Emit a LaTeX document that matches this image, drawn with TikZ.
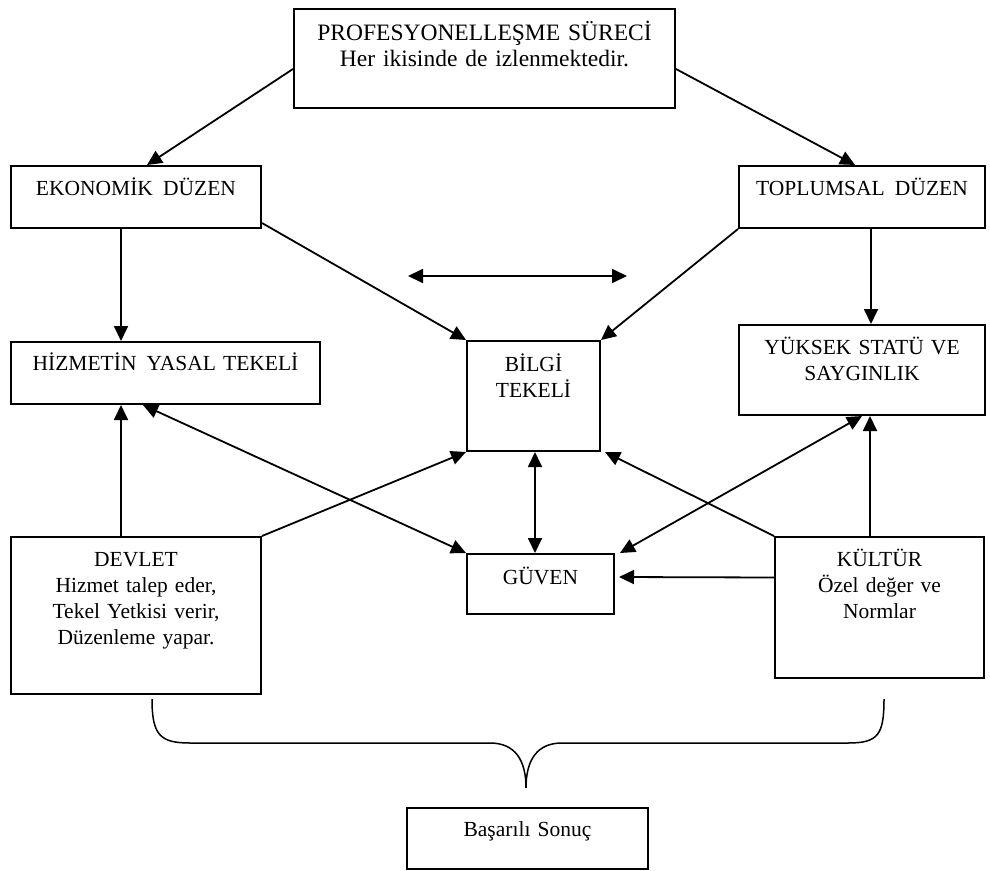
\documentclass[tikz,border=0pt]{standalone}
\usepackage{fontspec}
\setmainfont{Liberation Serif}
\usetikzlibrary{arrows.meta}
\tikzstyle{box} = [rectangle, draw=black, line width=2pt, inner sep=0pt, align=center, anchor=north west, font=\fontsize{21.5}{26}\selectfont]
\tikzstyle{arrow} = [line width=1.8pt, -{Triangle[length=15pt,width=14pt]}]
\tikzstyle{darrow} = [line width=1.8pt, {Triangle[length=15pt,width=14pt]}-{Triangle[length=15pt,width=14pt]}]

\begin{document}
\begin{tikzpicture}[x=1pt, y=-1pt]
                    \useasboundingbox (0,0) rectangle (990,870);

                    \node (prof) [box, text width=381pt, text height=31pt, text depth=68pt, font=\fontsize{23.5}{26}\selectfont] at (293,8) {PROFESYONELLEŞME SÜRECİ\\Her ikisinde de izlenmektedir.};
                    \node (ekonomi) [box, text width=250pt, text height=29pt, text depth=33pt] at (10,165) {EKONOMİK\hspace{3pt} DÜZEN\hspace*{14pt}};
                    \node (toplum) [box, text width=246pt, text height=29pt, text depth=33pt] at (738,165) {TOPLUMSAL\hspace{3pt} DÜZEN};
                    \node (hizmet) [box, text width=309pt, text height=28pt, text depth=34pt] at (10,341) {HİZMETİN\hspace{3pt} YASAL TEKELİ};
                    \node (bilgi) [box, text width=133pt, text height=30pt, text depth=80pt] at (466,340) {BİLGİ\\TEKELİ};
                    \node (statu) [box, text width=246pt, text height=29pt, text depth=61pt] at (738,324) {YÜKSEK STATÜ VE\\SAYGINLIK};
                    \node (devlet) [box, text width=250pt, text height=29pt, text depth=128pt] at (10,536) {DEVLET\\Hizmet talep eder,\\Tekel Yetkisi verir,\\Düzenleme yapar.};
                    \node (guven) [box, text width=147pt, text height=30pt, text depth=30pt] at (466,553) {GÜVEN};
                    \node (kultur) [box, text width=209pt, text height=29pt, text depth=112pt] at (774,536) {KÜLTÜR\\Özel değer ve\\Normlar};
                    \node (sonuc) [box, text width=241pt, text height=28pt, text depth=33pt] at (406,807) {Başarılı Sonuç};

                    \coordinate (okL) at (408,276);
                    \coordinate (okR) at (627,276);

                    \draw[arrow] ([yshift=-10.5pt]prof.west) -- ([xshift=137pt]ekonomi.north west);
                    \draw[arrow] ([yshift=-10.5pt]prof.east) -- ([xshift=117pt]toplum.north west);
                    \draw[arrow] ([xshift=111pt]ekonomi.south west) -- ([xshift=111pt]hizmet.north west);
                    \draw[arrow] ([yshift=6pt]ekonomi.south east) -- (bilgi.north west);
                    \draw[arrow] (toplum.south west) -- (bilgi.north east);
                    \draw[arrow] ([xshift=133pt]toplum.south west) -- ([xshift=133pt]statu.north west);
                    \draw[darrow] (okL) -- (okR);
                    \draw[darrow] ([xshift=133pt]hizmet.south west) -- (guven.north west);
                    \draw[arrow] ([xshift=111pt]devlet.north west) -- ([xshift=111pt]hizmet.south west);
                    \draw[arrow] (devlet.north east) -- (bilgi.south west);
                    \draw[darrow] ([xshift=69pt]bilgi.south west) -- ([xshift=69pt]guven.north west);
                    \draw[arrow] (kultur.north west) -- ([xshift=4pt]bilgi.south east);
                    \draw[arrow] ([xshift=96pt]kultur.north west) -- ([xshift=132pt]statu.south west);
                    \draw[darrow] (statu.south) -- ([xshift=5pt]guven.north east);
                    \draw[arrow] ([yshift=30pt]kultur.west) -- ([xshift=4pt,yshift=7pt]guven.east);

                    % brace
                    \draw[line width=1.5pt] (152,699) .. controls (152,735) and (160,743) .. (190,743) -- (490,743) .. controls (515,743) and (526,760) .. (526,788) .. controls (526,760) and (537,743) .. (562,743) -- (848,743) .. controls (878,743) and (884,735) .. (884,699);
                \end{tikzpicture}
\end{document}
